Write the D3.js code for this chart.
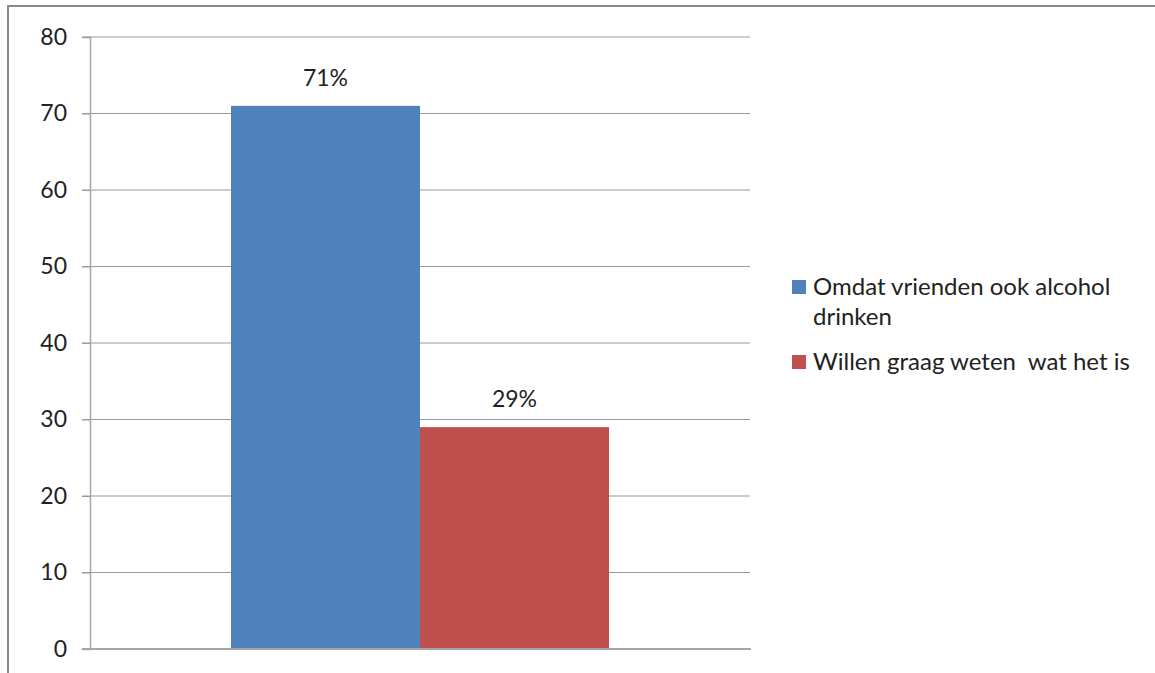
<!DOCTYPE html>
<html>
<head>
<meta charset="utf-8">
<script src="https://cdn.jsdelivr.net/npm/d3@7"></script>
<style>
  body { margin: 0; background: #fff; }
  svg { display: block; font-family: Lato, "Open Sans", sans-serif; }
</style>
</head>
<body>
<svg id="chart" width="1155" height="673"></svg>
<script>
// data
var categories = ["Redenen"];
var series = ["Omdat vrienden ook alcohol drinken", "Willen graag weten wat het is"];
var legendLines = [["Omdat vrienden ook alcohol", "drinken"], ["Willen graag weten  wat het is"]];
var values = [71, 29];
var valueLabels = ["71%", "29%"];
var colors = ["#4f81bd", "#c0504d"];
var yTicks = [0, 10, 20, 30, 40, 50, 60, 70, 80];

var svg = d3.select("#chart");

// outer frame (top and left edge of the pasted chart)
svg.append("path")
  .attr("d", "M8,673 L8,6 L1155,6")
  .attr("fill", "none")
  .attr("stroke", "#8a8a8a")
  .attr("stroke-width", 2);

var y = d3.scaleLinear().domain([0, 80]).range([649, 37]);
var x0 = d3.scaleBand().domain(categories).range([90, 750]);
var x1 = d3.scaleBand().domain(series).range([0, x0.bandwidth()]).paddingInner(0).paddingOuter(0.746);

// gridlines + left ticks
svg.append("g").selectAll("line")
  .data(yTicks.filter(function(d) { return d > 0; }))
  .enter().append("line")
  .attr("x1", 82).attr("x2", 750)
  .attr("y1", function(d) { return y(d); })
  .attr("y2", function(d) { return y(d); })
  .attr("stroke", "#9a9a9a")
  .attr("stroke-width", 1);

// y axis
var yAxis = d3.axisLeft(y).tickValues(yTicks).tickSize(8).tickPadding(15);
var ya = svg.append("g").attr("transform", "translate(90,0)").call(yAxis);
ya.select(".domain").attr("stroke", "#a6a6a6").attr("stroke-width", 1.5);
ya.selectAll(".tick line").attr("stroke", "#9a9a9a");
ya.selectAll(".tick text")
  .style("font-size", "23px")
  .style("font-family", "Lato, sans-serif")
  .attr("fill", "#222");

// bars
var bars = svg.append("g").attr("transform", "translate(" + x0(categories[0]) + ",0)");
bars.selectAll("rect")
  .data(series)
  .enter().append("rect")
  .attr("x", function(d) { return x1(d); })
  .attr("width", x1.bandwidth())
  .attr("y", function(d, i) { return y(values[i]); })
  .attr("height", function(d, i) { return y(0) - y(values[i]); })
  .attr("fill", function(d, i) { return colors[i]; });

bars.selectAll("text")
  .data(series)
  .enter().append("text")
  .attr("x", function(d) { return x1(d) + x1.bandwidth() / 2; })
  .attr("y", function(d, i) { return y(values[i]) - 20; })
  .attr("text-anchor", "middle")
  .style("font-size", "23px")
  .attr("fill", "#222")
  .text(function(d, i) { return valueLabels[i]; });

// baseline
svg.append("line")
  .attr("x1", 82).attr("x2", 751)
  .attr("y1", y(0)).attr("y2", y(0))
  .attr("stroke", "#a6a6a6")
  .attr("stroke-width", 2);

// legend
var legend = svg.append("g").attr("transform", "translate(792,0)");
var legendTop = [280, 355];
legendLines.forEach(function(lines, i) {
  legend.append("rect")
    .attr("x", 0).attr("y", legendTop[i])
    .attr("width", 14).attr("height", 14)
    .attr("fill", colors[i]);
  var t = legend.append("text")
    .attr("x", 21).attr("y", legendTop[i] + 15)
    .style("font-size", "24px")
    .style("white-space", "pre")
    .attr("fill", "#222");
  lines.forEach(function(l, j) {
    t.append("tspan").attr("x", 21).attr("dy", j === 0 ? 0 : 30).text(l);
  });
});
</script>
</body>
</html>
